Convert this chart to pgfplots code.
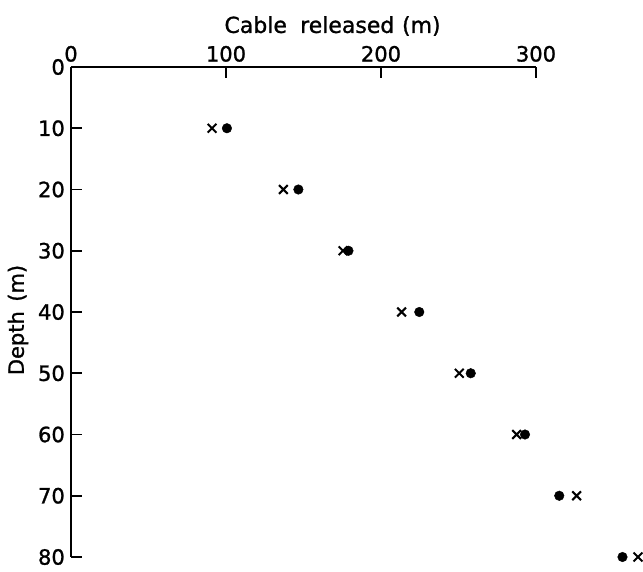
\documentclass[border=0pt]{standalone}
\usepackage{fontspec}
\setmainfont{DejaVu Sans}[FakeBold=1.2]
\usepackage{pgfplots}
\pgfplotsset{compat=1.18}
\pgfplotstableread{
x y
100.6 10
146.7 20
179.0 30
224.7 40
257.9 50
292.9 60
315.0 70
355.8 80
}\dots
\pgfplotstableread{
x y
91.0 10
137.0 20
175.5 30
213.3 40
250.5 50
287.5 60
326.2 70
365.8 80
}\crosses
\begin{document}
\fontsize{21}{25}\selectfont
\begin{tikzpicture}
\begin{axis}[
  name=ax,
  scale only axis, width=465pt, height=490pt,
  xmin=0, xmax=300, ymin=0, ymax=80, y dir=reverse,
  axis x line=top, axis y line=left,
  axis line style={-, line width=1.7pt, black},
  xtick={0,100,200,300}, ytick={0,10,...,80},
  tick align=inside,
  major tick style={line width=1.6pt, black},
  major tick length=11pt,
  clip=false,
  /pgf/number format/assume math mode=true,
  ticklabel style={font=\fontsize{21}{25}\selectfont},
  xticklabel style={yshift=-2pt},
  yticklabel style={xshift=1pt},
  xlabel={Cable\hspace{0.6em}released\hspace{0.35em}(m)},
  ylabel={Depth\hspace{0.45em}(m)},
  xlabel style={font=\fontsize{22}{26}\selectfont, at={(axis description cs:0.5625,1)}, anchor=south, yshift=24pt},
  ylabel style={font=\fontsize{21}{25}\selectfont, at={(axis description cs:0,0.5)}, anchor=center, xshift=-8pt, yshift=53pt},
]
\addplot[only marks, mark=*, mark size=4.8pt, black] table[x=x,y=y]{\dots};
\addplot[only marks, mark=x, mark size=6.2pt, line width=2pt, black] table[x=x,y=y]{\crosses};
\end{axis}
\pgfresetboundingbox
\path ([xshift=-71pt,yshift=67pt]ax.north west) rectangle ([xshift=107pt,yshift=-14pt]ax.south east);
\end{tikzpicture}
\end{document}
